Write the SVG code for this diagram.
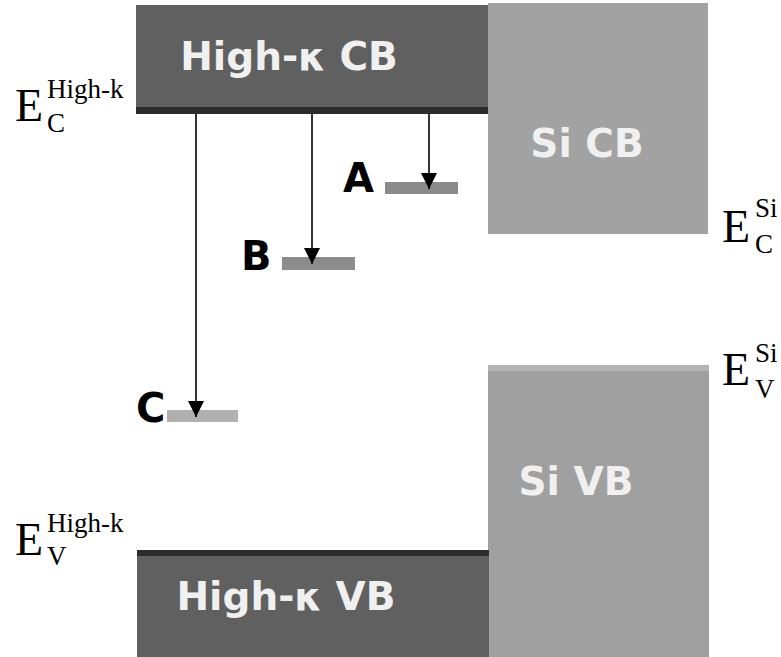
<svg xmlns="http://www.w3.org/2000/svg" width="781" height="657" viewBox="0 0 781 657">
<defs>
<style>
.band-label{font-family:"DejaVu Sans",Verdana,sans-serif;font-weight:bold;font-size:39px;fill:#f0f0f0;text-anchor:middle}
.lvl-label{font-family:"DejaVu Sans",Verdana,sans-serif;font-weight:bold;font-size:40px;fill:#000}
.e{font-family:"Liberation Serif","Times New Roman",serif;fill:#000}
.big{font-size:46px}
.small{font-size:27px}
.conn{stroke:#000;stroke-width:1.6;fill:none}
</style>
<marker id="arr" viewBox="0 0 10 10" refX="10" refY="5" markerWidth="16" markerHeight="16" markerUnits="userSpaceOnUse" orient="auto">
<path d="M0,0 L10,5 L0,10 z" fill="#000"/>
</marker>
</defs>
<rect width="781" height="657" fill="#fff"/>

<g id="si-cb">
<rect x="488" y="3" width="220" height="231" fill="#a2a2a2"/>
<text class="band-label" x="587" y="157">Si CB</text>
</g>
<g id="si-vb">
<rect x="488" y="365" width="221" height="292" fill="#a0a0a0"/>
<rect x="488" y="365" width="221" height="6" fill="#b4b4b4"/>
<text class="band-label" x="576" y="495">Si VB</text>
</g>
<g id="highk-cb">
<rect x="136" y="5" width="352" height="105" fill="#606060"/>
<rect x="136" y="107" width="352" height="7" fill="#2c2c2c"/>
<text class="band-label" x="289" y="70">High-κ CB</text>
</g>
<g id="highk-vb">
<rect x="137" y="550" width="352" height="107" fill="#606060"/>
<rect x="137" y="550" width="352" height="6" fill="#2c2c2c"/>
<text class="band-label" x="286" y="610">High-κ VB</text>
</g>

<g id="level-a">
<rect x="385" y="182" width="73" height="12" fill="#8a8a8a"/>
<text class="lvl-label" x="343" y="192">A</text>
</g>
<g id="level-b">
<rect x="282" y="257" width="73" height="13" fill="#8c8c8c"/>
<text class="lvl-label" x="241" y="270">B</text>
</g>
<g id="level-c">
<rect x="167" y="410" width="71" height="12" fill="#b0b0b0"/>
<text class="lvl-label" x="136" y="422">C</text>
</g>

<g id="connectors">
<line class="conn" x1="429" y1="114" x2="429" y2="189" marker-end="url(#arr)"/>
<line class="conn" x1="312" y1="114" x2="312" y2="264" marker-end="url(#arr)"/>
<line class="conn" x1="196" y1="114" x2="196" y2="417" marker-end="url(#arr)"/>
</g>

<g id="labels">
<text class="e" x="15" y="121"><tspan class="big">E</tspan><tspan class="small" x="47" y="98">High-k</tspan><tspan class="small" x="47" y="132">C</tspan></text>
<text class="e" x="15" y="555"><tspan class="big">E</tspan><tspan class="small" x="47" y="532">High-k</tspan><tspan class="small" x="47" y="565">V</tspan></text>
<text class="e" x="722" y="242"><tspan class="big">E</tspan><tspan class="small" x="755" y="217">Si</tspan><tspan class="small" x="755" y="253">C</tspan></text>
<text class="e" x="722" y="385"><tspan class="big">E</tspan><tspan class="small" x="755" y="362">Si</tspan><tspan class="small" x="755" y="398">V</tspan></text>
</g>
</svg>
